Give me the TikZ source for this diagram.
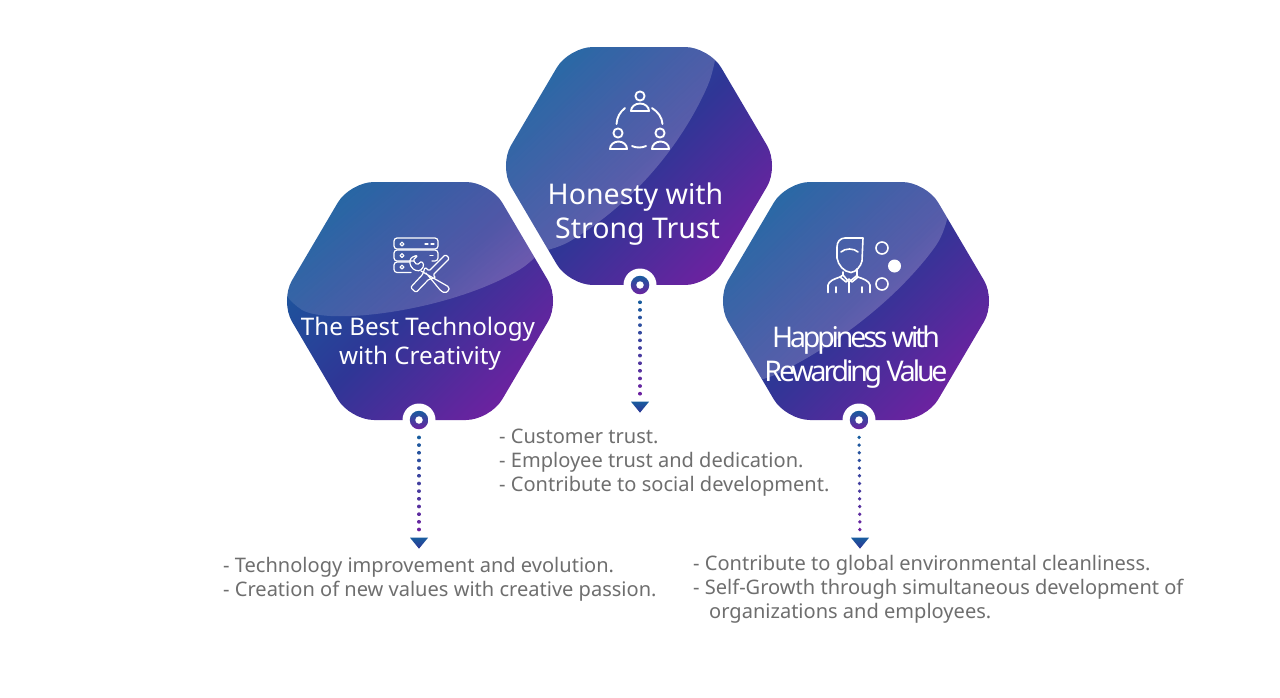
\documentclass[tikz,border=0pt]{standalone}
\usepackage{fontspec}
\setmainfont{Noto Sans}
\newfontfamily\tightfont{Noto Sans}[LetterSpace=-11]
\usepackage{xcolor}
\usepackage{tikz}
\usetikzlibrary{calc,shapes.geometric,fadings}
\definecolor{hexblue}{RGB}{24,92,158}
\definecolor{hexmid}{RGB}{47,54,150}
\definecolor{hexpurple}{RGB}{108,34,160}
\definecolor{bodygrey}{RGB}{110,110,110}
\tikzfading[name=glossfade,top color=transparent!100,bottom color=transparent!70]
% thirteen dots from a pin down to its arrowhead
\newcommand{\dottrail}[2]{%
  \foreach \k in {0,...,12}{%
    \pgfmathsetmacro{\fr}{0.134+\k*0.0595}
    \pgfmathsetmacro{\frb}{\fr+0.002}
    \pgfmathsetmacro{\pc}{100-\k*8.3}
    \draw[trail,hexblue!\pc!hexpurple] ($(#1)!\fr!(#2)$) -- ($(#1)!\frb!(#2)$);
  }%
}

\begin{document}
\begin{tikzpicture}[
  x=1pt,y=-1pt,
  hex/.style={regular polygon,regular polygon sides=6,minimum size=274.8pt,inner sep=0pt,outer sep=0pt,
    xscale=1.02,transform shape,
    rounded corners=24pt,left color=hexblue,right color=hexpurple,middle color=hexmid,shading angle=45},
  gloss/.style={white,path fading=glossfade,fading angle=45},
  title/.style={text=white,align=center,inner sep=0pt,font=\fontsize{28.5}{34}\selectfont},
  body/.style={text=bodygrey,anchor=north west,align=left,inner sep=0pt,font=\fontsize{20.05}{24}\selectfont},
  pinhalo/.style={circle,fill=white,minimum size=33pt,inner sep=0pt},
  pinring/.style={circle,minimum size=18.5pt,inner sep=0pt,top color=hexblue,bottom color=hexpurple},
  pineye/.style={circle,fill=white,minimum size=7.5pt,inner sep=0pt},
  trail/.style={line width=3.5pt,line cap=round},
  tiphead/.style={isosceles triangle,isosceles triangle apex angle=80,isosceles triangle stretches,
    minimum width=18pt,minimum height=11pt,inner sep=0pt,shape border rotate=270,anchor=apex,
    top color=hexblue,bottom color=hexmid},
  icon/.style={draw=white,line width=1.6pt,line cap=round,line join=round},
  thinicon/.style={icon,line width=1.2pt},
  thickicon/.style={icon,line width=1.9pt}
]
\useasboundingbox (0,0) rectangle (1280,697);

% ---------------- hexagons ----------------
\node[hex,path picture={\fill[gloss,shift={(path picture bounding box.center)}]
    (-136,-4) .. controls (-90,25) and (30,10) .. (118,-44) -- (200,-200) -- (-200,-200) -- cycle;}]
  (hexL) at (420,301) {};
\node[hex,path picture={\fill[gloss,shift={(path picture bounding box.center)}]
    (77,-104) .. controls (52,-45) and (12,25) .. (-87,86) -- (-200,86) -- (-200,-200) -- (77,-200) -- cycle;}]
  (hexC) at (639,166) {};
\node[hex,path picture={\fill[gloss,shift={(path picture bounding box.center)}]
    (92,-76) .. controls (60,-30) and (10,28) .. (-98,82) -- (-200,82) -- (-200,-200) -- (92,-200) -- cycle;}]
  (hexR) at (856,301) {};

% ---------------- titles ----------------
\node[title,font=\fontsize{24.2}{29}\selectfont] (titleL) at (418,344) {The Best Technology\\\hspace*{4pt}with Creativity};
\node[title] (titleC) at (635.5,214) {Honesty with\\\hspace*{4pt}Strong Trust};
\node[title,font=\fontsize{28.5}{34}\tightfont] (titleR) at (856,357.5) {Happiness with\\Rewarding Value};

% ---------------- pins, trails, arrowheads ----------------
\node[pinhalo] (pinL) at (419,420) {};
\node[pinhalo] (pinC) at (640,285) {};
\node[pinhalo] (pinR) at (859,420) {};
\node[pinring] (ringL) at (pinL) {};
\node[pinring] (ringC) at (pinC) {};
\node[pinring] (ringR) at (pinR) {};
\node[pineye] (eyeL) at (pinL) {};
\node[pineye] (eyeC) at (pinC) {};
\node[pineye] (eyeR) at (pinR) {};
\node[tiphead] (tipL) at (419,549) {};
\node[tiphead] (tipC) at (640,413) {};
\node[tiphead] (tipR) at (860,549) {};
\dottrail{pinL}{tipL.apex}
\dottrail{pinC}{tipC.apex}
\dottrail{pinR}{tipR.apex}

% ---------------- body texts ----------------
\node[body] (bodyL) at (223,557) {- Technology improvement and evolution.\\- Creation of new values with creative passion.};
\node[body] (bodyC) at (499,429) {- Customer trust.\\- Employee trust and dedication.\\- Contribute to social development.};
\node[body] (bodyR) at (693,555) {- Contribute to global environmental cleanliness.\\- Self-Growth through simultaneous development of\\\hspace*{16pt}organizations and employees.};

% ---------------- icon: three people in a ring ----------------
\draw[thickicon] (640,96) circle (4.6);
\draw[thickicon] (631,111) arc (180:360:9 and 7.5) -- cycle;
\draw[thickicon] (618,133) circle (4.6);
\draw[thickicon] (610,149) arc (180:360:8.5 and 7.5) -- cycle;
\draw[thickicon] (660,133) circle (4.6);
\draw[thickicon] (652,149) arc (180:360:8.5 and 7.5) -- cycle;
\draw[thickicon] (625,108) .. controls (620,112) and (617,117) .. (616.5,124);
\draw[thickicon] (652,108) .. controls (658,112) and (662,117) .. (662.5,124);
\draw[thickicon] (632,146) .. controls (636,148) and (642,148) .. (646,146);

% ---------------- icon: server and tools ----------------
\draw[thinicon,rounded corners=3pt] (394,238) rectangle (438,249);
\draw[thinicon,rounded corners=3pt] (414,261) -- (394,261) -- (394,250) -- (438,250) -- (438,261) -- (432,261);
\draw[thinicon,rounded corners=3pt] (411,272.5) -- (394,272.5) -- (394,262) -- (410,262);
\draw[thinicon] (402,244) circle (1.9);
\draw[thinicon] (402,255.5) circle (1.9);
\draw[thinicon] (402,267) circle (1.9);
\draw[thinicon] (425,244) -- (428,244) (431,244) -- (434,244) (430,255.5) -- (433,255.5);
% screwdriver
\draw[thinicon,rounded corners=1.5pt] (445.5,254.5) -- (449.5,258.5) -- (433,275) -- (436,278)
  -- (429,279) -- (416,292.5) -- (410.5,287.5) -- (423,274) -- (425,267) -- (429,271) -- cycle;
% wrench
\draw[thinicon,rounded corners=1.5pt] (418,255.5) -- (413,260) -- (417,265) -- (422,261) -- (424,266)
  -- (420,271) -- (414,270) -- (410,265) -- (410,259) -- (414,256) -- cycle;
\draw[thinicon,rounded corners=1.5pt] (421,271) -- (449,287) -- (449,290.5) -- (445,293) -- (441,291) -- (426,273);

% ---------------- icon: person and three dots ----------------
\draw[icon] (863,238) -- (845,238) .. controls (840,238) and (837,242) .. (837,247) -- (837,258)
  .. controls (838,265) and (844,272) .. (851,272.5) .. controls (856,272) and (861,266) .. (862,261) -- cycle;
\draw[icon] (841,252) .. controls (845,248) and (854,248) .. (858,252);
\draw[icon] (843,272) -- (843,275) -- (849,282) -- (857,275.5) -- (857,269);
\draw[icon] (843,275) -- (840,277) -- (846,282) -- (849,279) -- (852,282) -- (858,277) -- (857,275.5);
\draw[icon] (828,292.5) -- (828,285) .. controls (829,281) and (834,279) .. (840,277);
\draw[icon] (870,292.5) -- (870,285) .. controls (869,281) and (864,279) .. (858,277);
\draw[icon] (849,282) -- (849,292.5);
\draw[icon] (836,287) -- (836,292.5);
\draw[icon] (862,287) -- (862,292.5);
\draw[icon] (882,248) circle (6);
\fill[white] (894.5,266) circle (6.5);
\draw[icon] (882,284) circle (6);
\end{tikzpicture}
\end{document}
